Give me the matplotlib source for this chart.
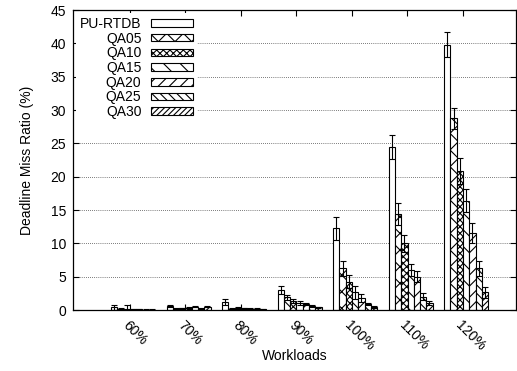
import numpy as np
import matplotlib
matplotlib.use("Agg")
import matplotlib.pyplot as plt

plt.rcParams['font.family'] = ['Liberation Sans', 'DejaVu Sans']
plt.rcParams['hatch.linewidth'] = 0.8

# Данные
workloads = ['60%', '70%', '80%', '90%', '100%', '110%', '120%']
series = ['PU-RTDB', 'QA05', 'QA10', 'QA15', 'QA20', 'QA25', 'QA30']

pu_rtdb = [0.4, 0.55, 1.2, 3.0, 12.25, 24.5, 39.8]
qa05 = [0.15, 0.2, 0.2, 1.9, 6.25, 14.4, 28.75]
qa10 = [0.15, 0.25, 0.3, 1.3, 4.25, 10.0, 20.85]
qa15 = [0.1, 0.3, 0.25, 1.1, 2.65, 6.0, 16.4]
qa20 = [0.1, 0.5, 0.2, 0.9, 1.75, 5.0, 11.5]
qa25 = [0.05, 0.2, 0.15, 0.6, 0.85, 2.0, 6.25]
qa30 = [0.05, 0.5, 0.1, 0.4, 0.5, 1.1, 2.65]

pu_rtdb_err = [0.4, 0.15, 0.4, 0.6, 1.75, 1.8, 1.9]
qa05_err = [0.1, 0.1, 0.1, 0.4, 1.15, 1.6, 1.6]
qa10_err = [0.6, 0.1, 0.1, 0.3, 1.0, 1.3, 2.0]
qa15_err = [0.1, 0.1, 0.1, 0.3, 1.0, 0.9, 1.7]
qa20_err = [0.1, 0.1, 0.1, 0.2, 0.6, 0.8, 1.5]
qa25_err = [0.05, 0.1, 0.1, 0.15, 0.15, 0.5, 1.1]
qa30_err = [0.05, 0.1, 0.05, 0.1, 0.15, 0.3, 0.8]

values = [pu_rtdb, qa05, qa10, qa15, qa20, qa25, qa30]
errors = [pu_rtdb_err, qa05_err, qa10_err, qa15_err, qa20_err, qa25_err, qa30_err]
hatches = ['', 'xx', 'xxxxx', '\\\\', '///', '\\\\\\\\', '//////']

fs = 10

fig = plt.figure(figsize=(5.17, 3.71), dpi=100)
ax = fig.add_axes([0.1412, 0.1644, 0.8568, 0.8086])

x = np.arange(len(workloads))
width = 0.113
start = -0.333

for j, name in enumerate(series):
    pos = x + start + width * (j + 0.5)
    ax.bar(pos, values[j], width, facecolor='white', edgecolor='black',
           linewidth=0.8, hatch=hatches[j], label=name, zorder=2)
    ax.errorbar(pos, values[j], yerr=errors[j], fmt='none', ecolor='black',
                elinewidth=0.8, capsize=2.5, capthick=0.8, zorder=3)

ax.set_xlim(-1.02, 6.96)
ax.set_ylim(0, 45)
ax.set_yticks(np.arange(0, 46, 5))
ax.set_xticks(x)
ax.set_xticklabels(workloads, rotation=-45, ha='left', va='top',
                   rotation_mode='anchor', fontsize=fs)
ax.tick_params(axis='y', labelsize=fs, pad=5)
ax.tick_params(direction='in', top=True, right=True, length=4, width=0.8)
ax.tick_params(axis='x', pad=6)
ax.yaxis.grid(True, linestyle=(0, (1, 2)), color='black', linewidth=0.5)
ax.set_axisbelow(True)
for s in ax.spines.values():
    s.set_linewidth(0.9)

ax.set_xlabel('Workloads', fontsize=fs, labelpad=-3)
ax.set_ylabel('Deadline Miss Ratio (%)', fontsize=fs, labelpad=12)

leg = ax.legend(loc='upper left', markerfirst=False, fontsize=fs,
                handlelength=3.0, handleheight=0.45, labelspacing=0.05,
                handletextpad=0.7, borderaxespad=0.2, borderpad=0.3,
                frameon=True, fancybox=False, edgecolor='none',
                facecolor='white', framealpha=1)

fig.savefig('out.png', dpi=100)
